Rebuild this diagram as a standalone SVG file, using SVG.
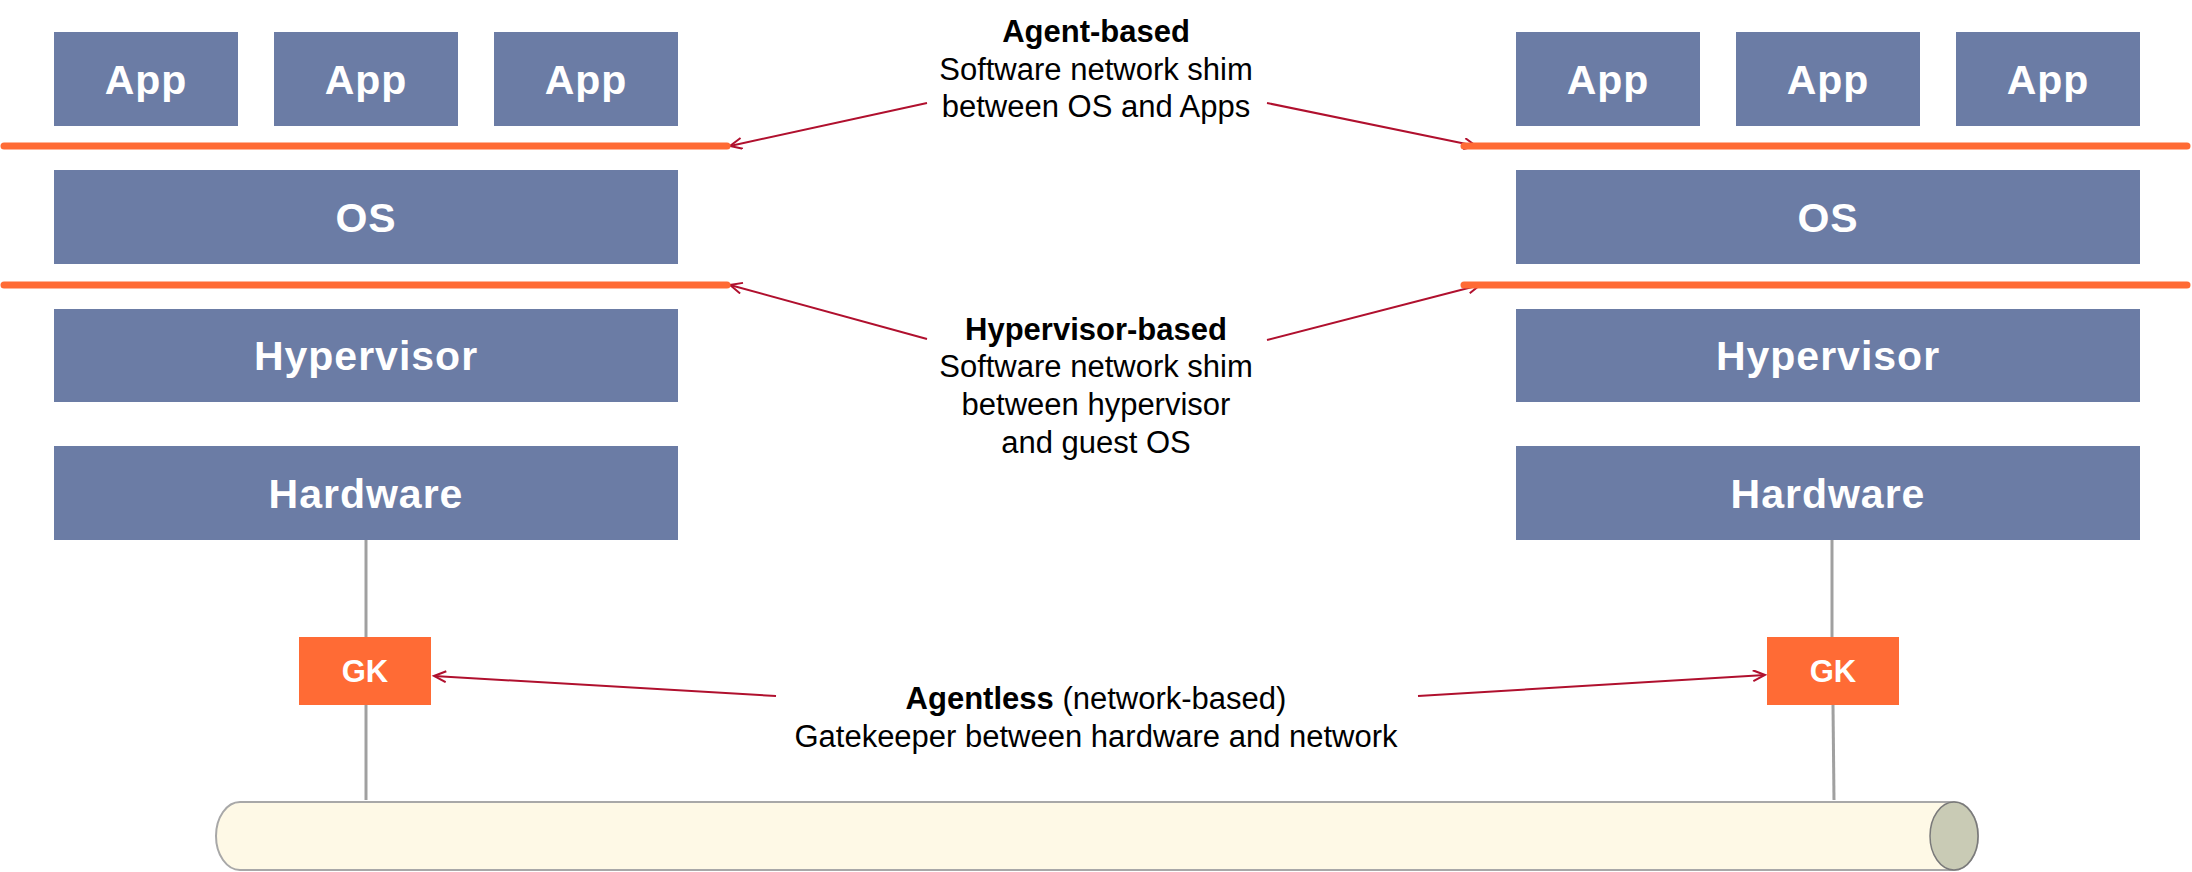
<svg xmlns="http://www.w3.org/2000/svg" width="2192" height="872" viewBox="0 0 2192 872">
<style>
.box{fill:#6B7CA5}
.bt{fill:#fff;font-family:"Liberation Sans",Arial,sans-serif;font-weight:bold;font-size:41px;text-anchor:middle;letter-spacing:1px}
.gk{fill:#FF6B35}
.gkt{fill:#fff;font-family:"Liberation Sans",Arial,sans-serif;font-weight:bold;font-size:31px;text-anchor:middle}
.shim{stroke:#FF6B35;stroke-width:7;stroke-linecap:round;fill:none}
.wire{stroke:#A0A0A0;stroke-width:3;fill:none}
.arr{stroke:#B0102E;stroke-width:2;fill:none;marker-end:url(#ah)}
.lbl{fill:#000;font-family:"Liberation Sans",Arial,sans-serif;font-size:31px;text-anchor:middle}
.b{font-weight:bold}
</style>
<defs>
<marker id="ah" markerUnits="userSpaceOnUse" markerWidth="16" markerHeight="14" refX="13" refY="6" orient="auto">
<path d="M1,0.5 L13,6 L1,11.5" fill="none" stroke="#B0102E" stroke-width="2"/>
</marker>
</defs>

<g id="network">
<path d="M240,802 H1954 A24,34 0 0 1 1954,870 H240 A24,34 0 0 1 240,802 Z" fill="#FEF9E6" stroke="#A8A8A8" stroke-width="2"/>
<ellipse cx="1954" cy="836" rx="24" ry="34" fill="#C9CBB5" stroke="#7A7A7A" stroke-width="1.5"/>
</g>

<g id="connectors">
<line class="wire" x1="366" y1="540" x2="366" y2="637"/>
<line class="wire" x1="366" y1="705" x2="366" y2="800"/>
<line class="wire" x1="1832" y1="540" x2="1832" y2="637"/>
<line class="wire" x1="1833" y1="705" x2="1834" y2="800"/>
<line class="arr" x1="927" y1="103" x2="730" y2="146"/>
<line class="arr" x1="1267" y1="103" x2="1476" y2="146"/>
<line class="arr" x1="927" y1="339" x2="730" y2="285"/>
<line class="arr" x1="1267" y1="340" x2="1480" y2="285"/>
<line class="arr" x1="776" y1="696" x2="434" y2="676"/>
<line class="arr" x1="1418" y1="696" x2="1765" y2="675"/>
</g>

<g id="shim-agent-left"><line class="shim" x1="4" y1="146" x2="727" y2="146"/></g>
<g id="shim-hyper-left"><line class="shim" x1="4" y1="285" x2="727" y2="285"/></g>
<g id="shim-agent-right"><line class="shim" x1="1464" y1="146" x2="2187" y2="146"/></g>
<g id="shim-hyper-right"><line class="shim" x1="1464" y1="285" x2="2187" y2="285"/></g>

<g id="left-app1"><rect class="box" x="54" y="32" width="184" height="94"/><text class="bt" x="146" y="94">App</text></g>
<g id="left-app2"><rect class="box" x="274" y="32" width="184" height="94"/><text class="bt" x="366" y="94">App</text></g>
<g id="left-app3"><rect class="box" x="494" y="32" width="184" height="94"/><text class="bt" x="586" y="94">App</text></g>
<g id="left-os"><rect class="box" x="54" y="170" width="624" height="94"/><text class="bt" x="366" y="232">OS</text></g>
<g id="left-hypervisor"><rect class="box" x="54" y="309" width="624" height="93"/><text class="bt" x="366" y="370">Hypervisor</text></g>
<g id="left-hardware"><rect class="box" x="54" y="446" width="624" height="94"/><text class="bt" x="366" y="508">Hardware</text></g>
<g id="left-gk"><rect class="gk" x="299" y="637" width="132" height="68"/><text class="gkt" x="365" y="682">GK</text></g>

<g id="right-app1"><rect class="box" x="1516" y="32" width="184" height="94"/><text class="bt" x="1608" y="94">App</text></g>
<g id="right-app2"><rect class="box" x="1736" y="32" width="184" height="94"/><text class="bt" x="1828" y="94">App</text></g>
<g id="right-app3"><rect class="box" x="1956" y="32" width="184" height="94"/><text class="bt" x="2048" y="94">App</text></g>
<g id="right-os"><rect class="box" x="1516" y="170" width="624" height="94"/><text class="bt" x="1828" y="232">OS</text></g>
<g id="right-hypervisor"><rect class="box" x="1516" y="309" width="624" height="93"/><text class="bt" x="1828" y="370">Hypervisor</text></g>
<g id="right-hardware"><rect class="box" x="1516" y="446" width="624" height="94"/><text class="bt" x="1828" y="508">Hardware</text></g>
<g id="right-gk"><rect class="gk" x="1767" y="637" width="132" height="68"/><text class="gkt" x="1833" y="682">GK</text></g>

<g id="label-agent">
<text class="lbl b" x="1096" y="42">Agent-based</text>
<text class="lbl" x="1096" y="80">Software network shim</text>
<text class="lbl" x="1096" y="117">between OS and Apps</text>
</g>
<g id="label-hypervisor">
<text class="lbl b" x="1096" y="340">Hypervisor-based</text>
<text class="lbl" x="1096" y="377">Software network shim</text>
<text class="lbl" x="1096" y="415">between hypervisor</text>
<text class="lbl" x="1096" y="453">and guest OS</text>
</g>
<g id="label-agentless">
<text class="lbl" x="1096" y="709"><tspan class="b">Agentless</tspan> (network-based)</text>
<text class="lbl" x="1096" y="747">Gatekeeper between hardware and network</text>
</g>
</svg>
